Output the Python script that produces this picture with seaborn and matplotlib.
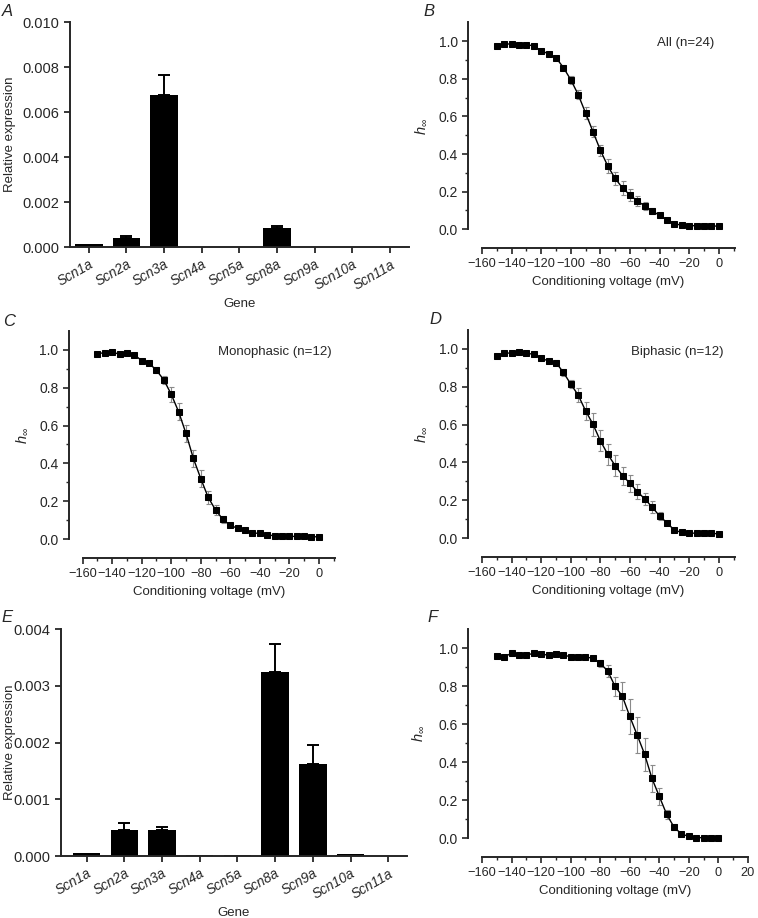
import numpy as np
import pandas as pd
import matplotlib
matplotlib.use('Agg')
import matplotlib.pyplot as plt
import seaborn as sns
from matplotlib.ticker import FixedLocator, MultipleLocator

# gene expression data (panels A and E)
genes = ['Scn1a', 'Scn2a', 'Scn3a', 'Scn4a', 'Scn5a', 'Scn8a', 'Scn9a', 'Scn10a', 'Scn11a']
expr_a = [0.00012, 0.00042, 0.00675, 0.00002, 0.0, 0.00084, 0.0, 0.0, 0.0]
err_a = [0.0, 0.00008, 0.00091, 0.0, 0.0, 0.00008, 0.0, 0.0, 0.0]
expr_e = [0.000045, 0.00045, 0.00045, 0.00001, 0.00002, 0.00324, 0.00162, 0.000035, 0.0]
err_e = [0.0, 0.00013, 0.00007, 0.0, 0.0, 0.0005, 0.00033, 0.0, 0.0]

# conditioning voltages (mV), -150 .. 0 in 5 mV steps
volts = [-150, -145, -140, -135, -130, -125, -120, -115, -110, -105, -100, -95, -90, -85, -80, -75,
         -70, -65, -60, -55, -50, -45, -40, -35, -30, -25, -20, -15, -10, -5, 0]

# panel B: all cells (n=24)
h_all = [0.972, 0.984, 0.986, 0.982, 0.982, 0.975, 0.949, 0.933, 0.912, 0.860, 0.795, 0.716, 0.618, 0.519,
         0.420, 0.336, 0.270, 0.219, 0.182, 0.150, 0.124, 0.097, 0.074, 0.049, 0.030, 0.021, 0.019, 0.019,
         0.019, 0.018, 0.016]
sem_all = [0.005, 0.004, 0.004, 0.004, 0.004, 0.005, 0.006, 0.008, 0.010, 0.015, 0.020, 0.025, 0.030, 0.030,
           0.030, 0.035, 0.035, 0.035, 0.030, 0.025, 0.022, 0.018, 0.012, 0.008, 0.005, 0.004, 0.004, 0.004,
           0.004, 0.004, 0.004]

# panel C: monophasic (n=12)
h_mono = [0.979, 0.986, 0.988, 0.977, 0.982, 0.974, 0.943, 0.929, 0.892, 0.841, 0.765, 0.673, 0.558, 0.426,
          0.320, 0.221, 0.154, 0.104, 0.072, 0.057, 0.046, 0.032, 0.030, 0.021, 0.018, 0.016, 0.014, 0.014,
          0.016, 0.012, 0.012]
sem_mono = [0.005, 0.004, 0.004, 0.005, 0.005, 0.006, 0.008, 0.010, 0.015, 0.022, 0.040, 0.044, 0.045, 0.047,
            0.044, 0.035, 0.028, 0.018, 0.010, 0.007, 0.006, 0.005, 0.004, 0.004, 0.004, 0.004, 0.004, 0.004,
            0.004, 0.004, 0.004]

# panel D: biphasic (n=12)
h_bi = [0.965, 0.977, 0.979, 0.984, 0.977, 0.972, 0.951, 0.936, 0.928, 0.876, 0.814, 0.756, 0.673, 0.602,
        0.514, 0.443, 0.383, 0.330, 0.290, 0.246, 0.207, 0.164, 0.117, 0.081, 0.042, 0.030, 0.028, 0.025,
        0.025, 0.025, 0.023]
sem_bi = [0.006, 0.005, 0.005, 0.005, 0.005, 0.006, 0.008, 0.010, 0.012, 0.018, 0.022, 0.035, 0.048, 0.060,
          0.055, 0.057, 0.057, 0.048, 0.044, 0.040, 0.034, 0.032, 0.022, 0.012, 0.008, 0.005, 0.005, 0.005,
          0.005, 0.005, 0.005]

# panel F
h_f = [0.959, 0.954, 0.972, 0.963, 0.963, 0.972, 0.970, 0.961, 0.968, 0.963, 0.954, 0.952, 0.952, 0.947,
       0.919, 0.880, 0.799, 0.746, 0.640, 0.542, 0.442, 0.314, 0.219, 0.124, 0.057, 0.021, 0.009, 0.002,
       0.002, 0.000, 0.002]
sem_f = [0.008, 0.010, 0.006, 0.006, 0.006, 0.006, 0.006, 0.006, 0.006, 0.006, 0.006, 0.006, 0.006, 0.008,
         0.020, 0.030, 0.050, 0.073, 0.093, 0.095, 0.087, 0.073, 0.046, 0.022, 0.015, 0.008, 0.005, 0.004,
         0.004, 0.004, 0.008]

sns.set_style('ticks')
plt.rcParams['font.family'] = ['Liberation Sans', 'DejaVu Sans']
plt.rcParams['mathtext.fontset'] = 'custom'
plt.rcParams['mathtext.it'] = 'Liberation Sans:italic'
plt.rcParams['mathtext.rm'] = 'Liberation Sans'

fig = plt.figure(figsize=(7.58, 9.18), dpi=100)

FS = 9.5


def bar_panel(ax, vals, errs, ymax, step, xmin, label_x):
    df = pd.DataFrame({'gene': genes, 'expr': vals})
    sns.barplot(data=df, x='gene', y='expr', color='black', width=0.73, linewidth=0, saturation=1, ax=ax)
    idx = [i for i, e in enumerate(errs) if e > 0]
    ax.errorbar(idx, [vals[i] for i in idx], yerr=[[0] * len(idx), [errs[i] for i in idx]],
                fmt='none', ecolor='black', elinewidth=1.4, capsize=4.3, capthick=1.4)
    ax.set_ylim(0, ymax)
    ax.set_xlim(xmin, 8.5)
    ticks = np.arange(0, ymax + step / 2, step)
    ax.set_yticks(ticks)
    ax.set_yticklabels(['%.3f' % t for t in ticks], fontsize=10.5)
    ax.set_xticks(range(len(genes)))
    ax.set_xticklabels(genes, rotation=30, ha='right', rotation_mode='anchor', fontstyle='italic', fontsize=9.8)
    ax.set_xlabel('Gene', fontsize=FS)
    ax.set_ylabel('Relative expression', fontsize=FS)
    ax.yaxis.set_label_coords(label_x, 0.5)
    sns.despine(ax=ax)
    for s in ['left', 'bottom']:
        ax.spines[s].set_linewidth(1.4)
    ax.tick_params(direction='out', length=4, width=1.3)


def curve_panel(ax, h, sem, xmax, label=None, lx=None, ly=None):
    ax.errorbar(volts, h, yerr=sem, fmt='none', ecolor='#8a8a8a', elinewidth=0.8, capsize=1.8,
                capthick=0.8, zorder=1)
    sns.lineplot(x=volts, y=h, color='black', linewidth=1.0, marker='s', markersize=4.6,
                 markeredgecolor='black', markerfacecolor='black', ax=ax, zorder=3)
    ax.set_xlim(-160, xmax)
    ax.set_ylim(-0.1, 1.1)
    ax.set_yticks([0, 0.2, 0.4, 0.6, 0.8, 1.0])
    ax.set_yticklabels(['0.0', '0.2', '0.4', '0.6', '0.8', '1.0'], fontsize=10)
    xt = np.arange(-160, xmax + 1, 20)
    ax.set_xticks(xt)
    ax.set_xticklabels(['\u2212%d' % -t if t < 0 else '%d' % t for t in xt], fontsize=9.2)
    ax.xaxis.set_minor_locator(MultipleLocator(10))
    ax.yaxis.set_minor_locator(FixedLocator([0.1, 0.3, 0.5, 0.7, 0.9]))
    sns.despine(ax=ax)
    ax.spines['left'].set_position(('outward', 10))
    ax.spines['left'].set_bounds(0, 1.1)
    for s in ['left', 'bottom']:
        ax.spines[s].set_linewidth(1.4)
    ax.tick_params(which='major', direction='out', length=4, width=1.2)
    ax.tick_params(which='minor', direction='out', length=2.2, width=1.0)
    ax.set_xlabel('Conditioning voltage (mV)', fontsize=FS)
    ax.set_ylabel(r'$h_\infty$', fontsize=10.5)
    ax.yaxis.set_label_coords(-0.21, 0.54)
    if label:
        ax.text(lx, ly, label, ha='right', va='center', fontsize=FS)


axA = fig.add_axes([0.0923, 0.7309, 0.4472, 0.2451])
bar_panel(axA, expr_a, err_a, 0.010, 0.002, -0.5, -0.159)

axB = fig.add_axes([0.6359, 0.7298, 0.3338, 0.2458])
curve_panel(axB, h_all, sem_all, 11, 'All (n=24)', -3, 0.99)

axC = fig.add_axes([0.1091, 0.3922, 0.3329, 0.2473])
curve_panel(axC, h_mono, sem_mono, 11, 'Monophasic (n=12)', 9, 0.99)

axD = fig.add_axes([0.6359, 0.3932, 0.3338, 0.2473])
curve_panel(axD, h_bi, sem_bi, 11, 'Biphasic (n=12)', 3, 0.985)

axE = fig.add_axes([0.0805, 0.0675, 0.4565, 0.2473])
bar_panel(axE, expr_e, err_e, 0.004, 0.001, -0.68, -0.130)

axF = fig.add_axes([0.6359, 0.0664, 0.3509, 0.2484])
curve_panel(axF, h_f, sem_f, 20)

# panel letters
for letter, x, y in [('A', 2, 12), ('B', 423, 11), ('C', 3, 321), ('D', 429, 320), ('E', 1, 617), ('F', 427, 617)]:
    fig.text(x / 758, 1 - y / 918, letter, fontsize=12, fontstyle='italic', va='center', ha='left')

fig.savefig('out.png', dpi=100)
